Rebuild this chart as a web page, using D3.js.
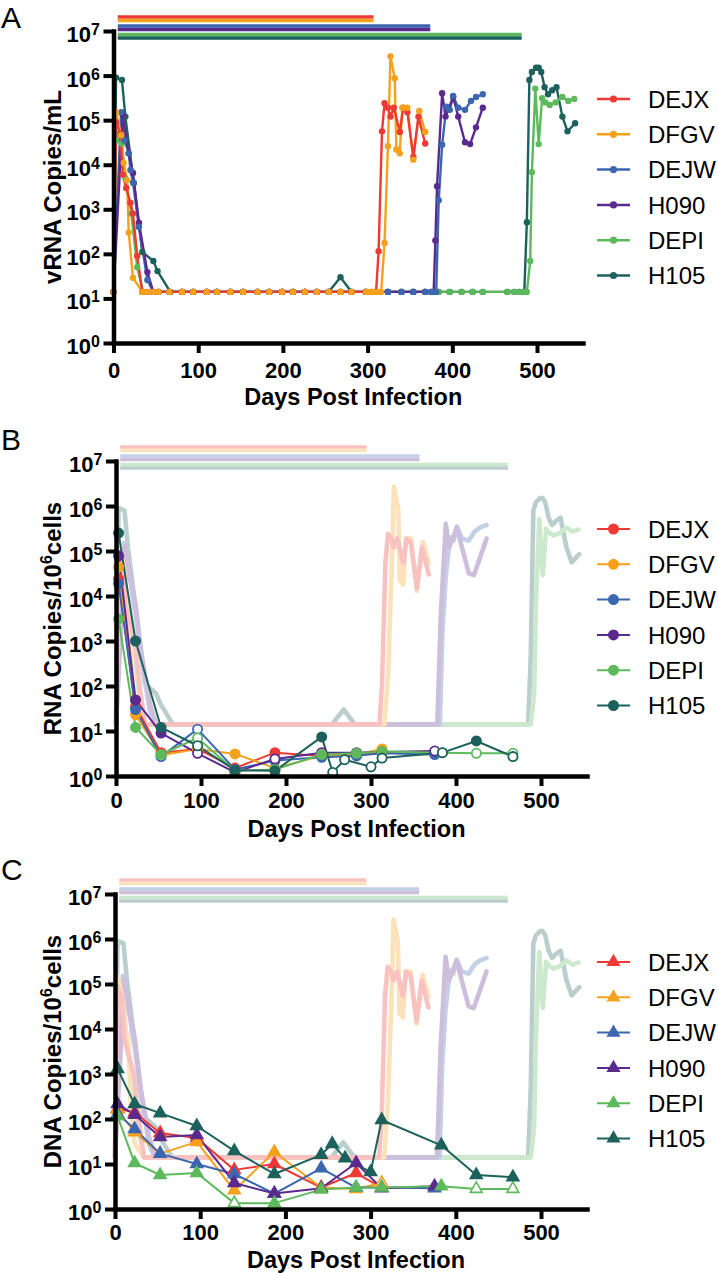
<!DOCTYPE html>
<html><head><meta charset="utf-8">
<script src="https://cdn.jsdelivr.net/npm/d3@7"></script>
<style>body{margin:0;background:#fff} text{font-family:"Liberation Sans",Arial,Helvetica,sans-serif}</style>
</head><body><svg id="c" width="718" height="1273"></svg>
<script>
const names = ["DEJX","DFGV","DEJW","H090","DEPI","H105"];
const colors = ["#EE3A35","#F6A11D","#3C66B0","#5B2A8F","#5DBA5C","#1D615C"];
const xTickValues = [0,100,200,300,400,500];
const yTickExponents = [0,1,2,3,4,5,6,7];

// ART bars (start day, end day per series)
const artStart = 5;
const artEndA = [307,307,374,374,482,482];
const artEndBC = [295,295,357,357,461,461];

// Panel A: plasma vRNA copies/mL
const a_DEJX_days = [0,3,8,11,15,20,23,28,34,40,47,53,66,81,94,110,122,138,153,170,184,199,212,226,240,254,268,281,298,305,310,313,317,320,324,327,331,338,342,347,354,360,368];
const a_DEJX_vals = [14,9e4,5e4,6e3,3e3,1400,800,90,14,14,14,14,14,14,14,14,14,14,14,14,14,14,14,14,14,14,14,14,14,14,14,115,5.6e4,2.4e5,1.9e5,1.2e5,1.9e5,5.4e4,1.9e5,1.5e5,1.5e4,1.2e5,3e4];
const a_DFGV_days = [0,3,9,12,16,18,23,34,40,47,53,66,81,94,110,122,138,153,170,184,199,212,226,240,254,268,281,298,300,305,308,312,316,320,324,327,332,334,338,341,347,354,361,368];
const a_DFGV_vals = [14,1.5e5,4.6e4,1.1e4,4.5e3,300,29,14,14,14,14,14,14,14,14,14,14,14,14,14,14,14,14,14,14,14,14,14,14,14,14,14,14,175,2.6e4,2.7e6,8.7e5,2.2e4,1.8e4,1.9e5,1.9e5,1.3e4,1.6e5,5.4e4];
const a_DEJW_days = [0,9,13,18,20,23,30,40,47,53,66,81,94,110,122,138,153,170,184,199,212,226,240,254,268,281,298,310,324,340,354,368,375,379,381,384,388,393,397,401,407,415,422,428,436];
const a_DEJW_vals = [14,1.5e5,3.5e4,1.8e4,7.6e3,4e3,400,26,14,14,14,14,14,14,14,14,14,14,14,14,14,14,14,14,14,14,14,14,14,14,14,14,14,14,14,1.6e3,2.8e4,2e5,1.7e5,3.5e5,1.9e5,1.7e5,2.7e5,3.3e5,3.8e5];
const a_H090_days = [0,11,18,23,30,40,47,53,66,81,94,110,122,138,153,170,184,199,212,226,240,254,268,281,298,310,324,340,354,368,375,378,380,382,388,392,401,407,415,421,428,436];
const a_H090_vals = [14,1.3e5,1.8e4,6.5e3,500,39,14,14,14,14,14,14,14,14,14,14,14,14,14,14,14,14,14,14,14,14,14,14,14,14,14,14,200,3.3e3,4e5,1.2e5,3.3e5,1.2e5,3.2e4,2.9e4,6.9e4,1.9e5];
const a_DEPI_days = [0,3,7,10,14,21,28,35,47,53,66,81,94,110,122,138,153,170,184,199,212,226,240,254,268,281,298,310,324,340,354,368,384,397,411,424,436,465,473,479,485,488,492,494,498,502,506,510,515,522,530,537,544];
const a_DEPI_vals = [14,3.5e4,5e4,3e4,5e3,800,50,14,14,14,14,14,14,14,14,14,14,14,14,14,14,14,14,14,14,14,14,14,14,14,14,14,14,14,14,14,14,14,14,14,14,14,69,6.8e3,5.1e5,2.9e4,3.1e5,2.5e5,2.2e5,2.5e5,3.3e5,2.7e5,3e5];
const a_H105_days = [0,3,10,14,24,34,47,52,67,81,94,110,122,138,153,170,184,199,212,226,240,254,268,281,298,310,324,340,354,368,384,397,411,424,436,465,473,479,485,488,491,494,499,502,505,509,513,518,523,530,536,545];
const a_H105_vals = [14,9e5,8e5,1.2e5,3.9e3,110,69,41,14,14,14,14,14,14,14,14,14,14,14,14,14,14,30,14,14,14,14,14,14,14,14,14,14,14,14,14,14,14,14,510,8e5,1.2e6,1.5e6,1.5e6,1.2e6,5.5e5,3.8e5,4.7e5,5.5e5,1.2e5,5.6e4,8.5e4];

// Panel B: cell-associated RNA copies / 10^6 cells (open = below detection)
const b_DEJX_days = [3,23,53,96,140,187,242,283,313];
const b_DEJX_vals = [2.4e4,35,3.3,4,1.5,3.3,2.8,3,3.4];
const b_DEJX_open = [];
const b_DFGV_days = [3,23,53,96,140,187,242,283,313];
const b_DFGV_vals = [4.4e4,23,2.9,4,3.1,1.5,2.8,3,4];
const b_DFGV_open = [53];
const b_DEJW_days = [3,23,53,96,140,187,242,283,313,375];
const b_DEJW_vals = [1.9e4,30,2.7,11,1.4,2.2,2.6,2.8,3.2,3];
const b_DEJW_open = [53,96];
const b_H090_days = [3,23,53,96,140,187,242,283,313,375];
const b_H090_vals = [7.8e4,49,9,3.2,1.2,2.4,3.3,3.3,3.4,3.6];
const b_H090_open = [96,187,242,283,313,375];
const b_DEPI_days = [3,23,53,96,140,187,242,283,313,384,424,467];
const b_DEPI_vals = [3.1e3,12,3,7,1.3,1.4,3,3.2,3.5,3.3,3.2,3.2];
const b_DEPI_open = [96,384,424,467];
const b_H105_days = [3,23,53,96,140,187,242,255,269,300,313,384,424,467];
const b_H105_vals = [2.5e5,1000,12,4.7,1.35,1.3,7.4,1.2,2.3,1.6,2.5,3.3,6,2.7];
const b_H105_open = [96,255,269,300,313,384,467];

// Panel C: cell-associated DNA copies / 10^6 cells
const c_DEJX_days = [3,23,53,96,140,187,242,283,313];
const c_DEJX_vals = [170,140,49,38,7.4,10,3,6.3,3];
const c_DEJX_open = [];
const c_DFGV_days = [3,23,53,96,140,187,242,283,313];
const c_DFGV_vals = [160,51,17,31,2.6,18.5,3,2.8,3.8];
const c_DFGV_open = [313];
const c_DEJW_days = [3,23,53,96,140,187,242,283,313,375];
const c_DEJW_vals = [130,60,17,10,6,2.2,8,3,3,2.9];
const c_DEJW_open = [];
const c_H090_days = [3,23,53,96,140,187,242,283,313,375];
const c_H090_vals = [215,125,40,44,3.8,2.2,2.9,10.5,2.9,3.2];
const c_H090_open = [242,313];
const c_DEPI_days = [3,23,53,96,140,187,242,283,313,383,424,467];
const c_DEPI_vals = [115,10.5,5.7,6.3,1.35,1.35,2.7,3,3,3.2,2.8,2.8];
const c_DEPI_open = [140,424,467];
const c_H105_days = [3,23,53,96,140,187,242,255,270,300,313,383,424,467];
const c_H105_vals = [1300,215,135,70,19.5,6,16,28,13.5,6.6,95,26,5.7,5.1];
const c_H105_open = [];

const aData = [[a_DEJX_days,a_DEJX_vals],[a_DFGV_days,a_DFGV_vals],[a_DEJW_days,a_DEJW_vals],[a_H090_days,a_H090_vals],[a_DEPI_days,a_DEPI_vals],[a_H105_days,a_H105_vals]];
const bData = [[b_DEJX_days,b_DEJX_vals,b_DEJX_open],[b_DFGV_days,b_DFGV_vals,b_DFGV_open],[b_DEJW_days,b_DEJW_vals,b_DEJW_open],[b_H090_days,b_H090_vals,b_H090_open],[b_DEPI_days,b_DEPI_vals,b_DEPI_open],[b_H105_days,b_H105_vals,b_H105_open]];
const cData = [[c_DEJX_days,c_DEJX_vals,c_DEJX_open],[c_DFGV_days,c_DFGV_vals,c_DFGV_open],[c_DEJW_days,c_DEJW_vals,c_DEJW_open],[c_H090_days,c_H090_vals,c_H090_open],[c_DEPI_days,c_DEPI_vals,c_DEPI_open],[c_H105_days,c_H105_vals,c_H105_open]];

const barOffsets = [-14,-10.5,-5,-1.5,3.5,7];

const svg = d3.select("#c");

const panels = [
  {kind:"A", letter:"A", letterY:28, x0:113.5, x500:537, xEnd:583, yTop:31, yBot:343, tickDy:35, titleDy:62, artEnd:artEndA,
   ytitle:[["vRNA Copies/mL",0]]},
  {kind:"B", letter:"B", letterY:450, x0:116, x500:541, xEnd:587, yTop:461, yBot:776, tickDy:32, titleDy:61, artEnd:artEndBC, data:bData,
   ytitle:[["RNA Copies/10",0],["6",1],["cells",2]]},
  {kind:"C", letter:"C", letterY:880, x0:115, x500:541, xEnd:587, yTop:894, yBot:1209, tickDy:31, titleDy:59, artEnd:artEndBC, data:cData,
   ytitle:[["DNA Copies/10",0],["6",1],["cells",2]]}
];

function marker(g, kind, cx, cy, color, open, small){
  if(kind==="A"){
    g.append("circle").attr("cx",cx).attr("cy",cy).attr("r",small?3.6:3.2).attr("fill",color);
  } else if(kind==="B"){
    g.append("circle").attr("cx",cx).attr("cy",cy).attr("r",4.6)
      .attr("fill",open?"#fff":color).attr("stroke",color).attr("stroke-width",1.8);
  } else {
    g.append("path").attr("d",d3.symbol(d3.symbolTriangle, small?56:62)())
      .attr("transform",`translate(${cx},${cy})`)
      .attr("fill",open?"#fff":color).attr("stroke",color).attr("stroke-width",1.6);
  }
}

panels.forEach(cfg=>{
  const dEnd = 500*(cfg.xEnd-cfg.x0)/(cfg.x500-cfg.x0);
  const x = d3.scaleLinear().domain([0,dEnd]).range([cfg.x0,cfg.xEnd]);
  const y = d3.scaleLog().domain([1,1e7]).range([cfg.yBot,cfg.yTop]);
  const g = svg.append("g");
  const line = d3.line().x(d=>x(d[0])).y(d=>y(d[1]));
  const isA = cfg.kind==="A";

  // background layer: ART bars + plasma viral load (full in A, faded as a whole in B/C)
  const bg = g.append("g").attr("opacity", isA?1:0.3);
  names.forEach((n,i)=>{
    const yy = cfg.yTop+barOffsets[i];
    bg.append("line").attr("x1",x(artStart)).attr("x2",x(cfg.artEnd[i])).attr("y1",yy).attr("y2",yy)
      .attr("stroke",colors[i]).attr("stroke-width",3.6);
  });
  const aPts = aData.map(s=>s[0].map((d,k)=>[d,s[1][k]]));
  [5,4,2,3,1,0].forEach(i=>{
    bg.append("path").attr("d",line(aPts[i])).attr("fill","none").attr("stroke",colors[i])
      .attr("stroke-width",isA?2.4:4.6)
      .attr("stroke-linejoin","round").attr("stroke-linecap","round");
  });
  if(isA){
    [5,4,3,2,0,1].forEach(i=>{
      aPts[i].forEach(p=>marker(g,"A",x(p[0]),y(p[1]),colors[i],false));
    });
  } else {
    const pts = cfg.data.map(s=>s[0].map((d,k)=>[d,s[1][k],s[2].includes(d)]));
    [0,1,2,3,4,5].forEach(i=>{
      g.append("path").attr("d",line(pts[i])).attr("fill","none").attr("stroke",colors[i])
        .attr("stroke-width",2).attr("stroke-linejoin","round");
    });
    [0,1,2,3,4,5].forEach(i=>{
      pts[i].forEach(p=>marker(g,cfg.kind,x(p[0]),y(p[1]),colors[i],p[2]));
    });
  }

  // axes
  const ya = g.append("g").attr("transform",`translate(${cfg.x0},0)`)
    .call(d3.axisLeft(y).tickValues(yTickExponents.map(e=>Math.pow(10,e))).tickFormat(()=>"").tickSize(10).tickSizeOuter(0));
  ya.select(".domain").attr("stroke-width",4.5).attr("stroke-linecap","square");
  ya.selectAll(".tick line").attr("stroke-width",4);
  yTickExponents.forEach(e=>{
    const yy = y(Math.pow(10,e));
    const t = g.append("text").attr("x",cfg.x0-13.5).attr("y",yy+11).attr("text-anchor","end").attr("font-weight","bold");
    t.append("tspan").attr("font-size",22).text("10");
    t.append("tspan").attr("font-size",16).attr("dy",-7).text(e);
  });
  const xa = g.append("g").attr("transform",`translate(0,${cfg.yBot})`)
    .call(d3.axisBottom(x).tickValues(xTickValues).tickSize(10).tickSizeOuter(0).tickPadding(cfg.tickDy-10-15.6));
  xa.select(".domain").attr("stroke-width",4.5).attr("stroke-linecap","square");
  xa.selectAll(".tick line").attr("stroke-width",4);
  xa.selectAll(".tick text").attr("font-size",22).attr("font-weight","bold").attr("fill","#000")
    .attr("font-family",'"Liberation Sans",Arial,sans-serif');

  // axis titles
  g.append("text").attr("x",(cfg.x0+cfg.xEnd)/2+5).attr("y",cfg.yBot+cfg.titleDy).attr("text-anchor","middle")
    .attr("font-size",23.5).attr("font-weight","bold").text("Days Post Infection");
  const yt = g.append("text").attr("transform",`translate(61,${(cfg.yTop+cfg.yBot)/2}) rotate(-90)`)
    .attr("text-anchor","middle").attr("font-size",24).attr("font-weight","bold");
  cfg.ytitle.forEach(([s,k])=>{
    const sp = yt.append("tspan").text(s);
    if(k===1) sp.attr("font-size",16).attr("dy",-9);
    if(k===2) sp.attr("dy",9);
  });

  // panel letter
  svg.append("text").attr("x",1).attr("y",cfg.letterY).attr("font-size",30).text(cfg.letter);

  // legend
  names.forEach((n,i)=>{
    const ly = cfg.yTop+68+i*35.3;
    g.append("line").attr("x1",597).attr("x2",630).attr("y1",ly).attr("y2",ly)
      .attr("stroke",colors[i]).attr("stroke-width",isA?2.5:2);
    marker(g,cfg.kind,613.5,ly,colors[i],false,true);
    g.append("text").attr("x",648).attr("y",ly+8.7).attr("font-size",24).text(n);
  });
});
</script></body></html>
